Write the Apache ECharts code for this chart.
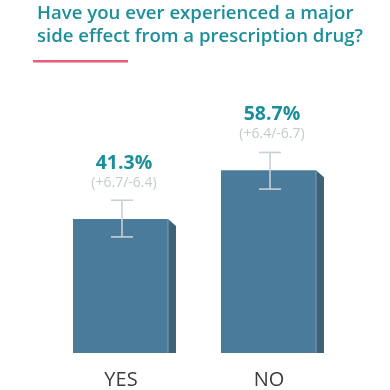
<!DOCTYPE html>
<html>
<head>
<meta charset="utf-8">
<script src="https://cdn.jsdelivr.net/npm/echarts@6/dist/echarts.min.js"></script>
<style>html,body{margin:0;padding:0;background:#fff}#c{width:390px;height:390px}</style>
</head>
<body>
<div id="c"></div>
<script>
const categories = ['YES', 'NO'];
const values = [41.3, 58.7];
const errPlus = [6.7, 6.4];
const errMinus = [6.4, 6.7];
const errLabels = ['(+6.7/-6.4)', '(+6.4/-6.7)'];
const titleText = 'Have you ever experienced a major\nside effect from a prescription drug?';

const Y_MIN = -6.6, Y_MAX = 91;
const chart = echarts.init(document.getElementById('c'));
const data = categories.map((c, i) => [i, values[i], errPlus[i], errMinus[i]]);

chart.setOption({
  animation: false,
  title: {
    text: titleText, left: 32, top: -3,
    textStyle: { fontFamily: 'Open Sans', fontWeight: 600, fontSize: 18.6, lineHeight: 23, color: '#1d8f9c' }
  },
  graphic: [{ type: 'rect', left: 33, top: 60, shape: { width: 95, height: 2.5 }, style: { fill: '#e85d75' } }],
  grid: { left: 47, right: 47, top: 80, bottom: 35 },
  xAxis: {
    type: 'category', data: categories,
    axisLine: { show: false }, axisTick: { show: false }, splitLine: { show: false },
    axisLabel: { fontFamily: 'Open Sans', fontSize: 20, color: '#3d3d3d', margin: 17 }
  },
  yAxis: { type: 'value', min: Y_MIN, max: Y_MAX, show: false, splitLine: { show: false } },
  series: [{
    type: 'custom',
    data: data,
    renderItem: function (params, api) {
      const i = api.value(0);
      const top = api.coord([i, api.value(1)]);
      const bot = api.coord([i, Y_MIN]);
      const hi = api.coord([i, api.value(1) + api.value(2)]);
      const lo = api.coord([i, api.value(1) - api.value(3)]);
      const c = top[0];
      const children = [
        { type: 'polygon', shape: { points: [[c + 47, top[1]], [c + 55, top[1] + 7], [c + 55, bot[1]], [c + 47, bot[1]]] }, style: { fill: '#3e6379' } },
        { type: 'rect', shape: { x: c - 48, y: top[1], width: 95, height: bot[1] - top[1] }, style: { fill: '#4b7b9a' } },
        { type: 'line', shape: { x1: c + 47, y1: top[1], x2: c + 47, y2: bot[1] }, style: { stroke: '#7fa0b5', lineWidth: 1 } },
        { type: 'line', shape: { x1: c + 1, y1: hi[1], x2: c + 1, y2: lo[1] }, style: { stroke: '#c8d0d6', lineWidth: 1.6 } },
        { type: 'line', shape: { x1: c - 10, y1: hi[1], x2: c + 12, y2: hi[1] }, style: { stroke: '#c8d0d6', lineWidth: 1.6 } },
        { type: 'line', shape: { x1: c - 10, y1: lo[1], x2: c + 12, y2: lo[1] }, style: { stroke: '#c8d0d6', lineWidth: 1.6 } },
        { type: 'text', style: { x: c + 3, y: top[1] - 56, text: values[i].toFixed(1) + '%', fill: '#1a8f9b', font: 'bold 19.5px "Open Sans"', textAlign: 'center', textVerticalAlign: 'middle' } },
        { type: 'text', style: { x: c + 3, y: top[1] - 36, text: errLabels[i], fill: '#c3cbd1', font: '14px "Open Sans"', textAlign: 'center', textVerticalAlign: 'middle' } }
      ];
      return { type: 'group', children: children };
    }
  }]
});
</script>
</body>
</html>
